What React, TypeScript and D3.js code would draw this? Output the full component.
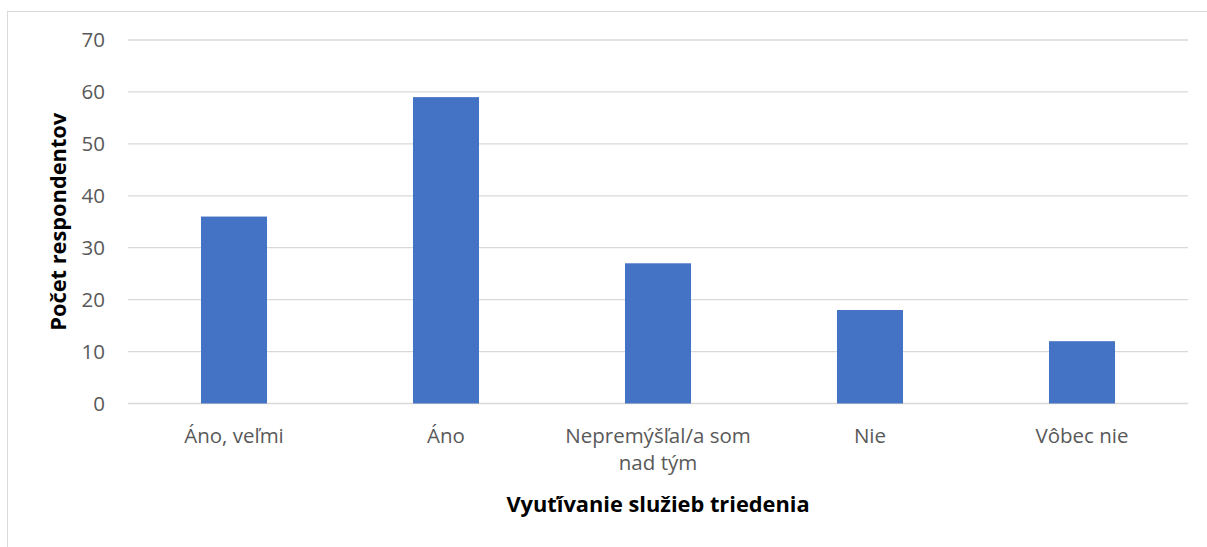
import React from "react";
import * as d3 from "d3";

const categories: string[][] = [
  ["Áno, veľmi"],
  ["Áno"],
  ["Nepremýšľal/a som", "nad tým"],
  ["Nie"],
  ["Vôbec nie"],
];
const values: number[] = [36, 59, 27, 18, 12];
const yTicks: number[] = [0, 10, 20, 30, 40, 50, 60, 70];
const xTitle = "Vyuťívanie služieb triedenia";
const yTitle = "Počet respondentov";

const W = 1207;
const H = 547;
const left = 128;
const right = 1188;
const top = 40;
const bottom = 403.5;
const FONT = "'Open Sans', 'Noto Sans', sans-serif";

export default function App() {
  const ids = categories.map((_, i) => String(i));
  const x = d3.scaleBand<string>().domain(ids).range([left, right]).paddingInner(0.6886).paddingOuter(0.3443);
  const y = d3.scaleLinear().domain([0, 70]).range([bottom, top]);
  return (
    <svg width={W} height={H} style={{ position: "absolute", left: 0, top: 0 }}>
      <rect x={0} y={0} width={W} height={H} fill="#fff" />
      <rect x={7.5} y={11.5} width={W + 10} height={H + 10} fill="none" stroke="#D9D9D9" strokeWidth={1} />
      {yTicks.map((t) => (
        <g key={t}>
          <line x1={left} x2={right} y1={y(t)} y2={y(t)} stroke="#D9D9D9" strokeWidth={1.3} />
          <text x={105} y={y(t)} dy="0.36em" textAnchor="end" fontFamily={FONT} fontSize={20.5} fill="#595959">
            {t}
          </text>
        </g>
      ))}
      {values.map((v, i) => (
        <rect
          key={i}
          x={x(String(i))}
          y={y(v)}
          width={x.bandwidth()}
          height={y(0) - y(v)}
          fill="#4472C4"
        />
      ))}
      {categories.map((lines, i) => (
        <text
          key={i}
          x={(x(String(i)) as number) + x.bandwidth() / 2}
          y={443}
          textAnchor="middle"
          fontFamily={FONT}
          fontSize={20.5}
          fill="#595959"
        >
          {lines.map((l, j) => (
            <tspan key={j} x={(x(String(i)) as number) + x.bandwidth() / 2} dy={j === 0 ? 0 : 27}>
              {l}
            </tspan>
          ))}
        </text>
      ))}
      <text x={(left + right) / 2} y={512} textAnchor="middle" fontFamily={FONT} fontSize={21.8} fontWeight="bold" fill="#000">
        {xTitle}
      </text>
      <text
        transform={`translate(66, ${(top + bottom) / 2}) rotate(-90)`}
        textAnchor="middle"
        fontFamily={FONT}
        fontSize={21.8}
        fontWeight="bold"
        fill="#000"
      >
        {yTitle}
      </text>
    </svg>
  );
}
